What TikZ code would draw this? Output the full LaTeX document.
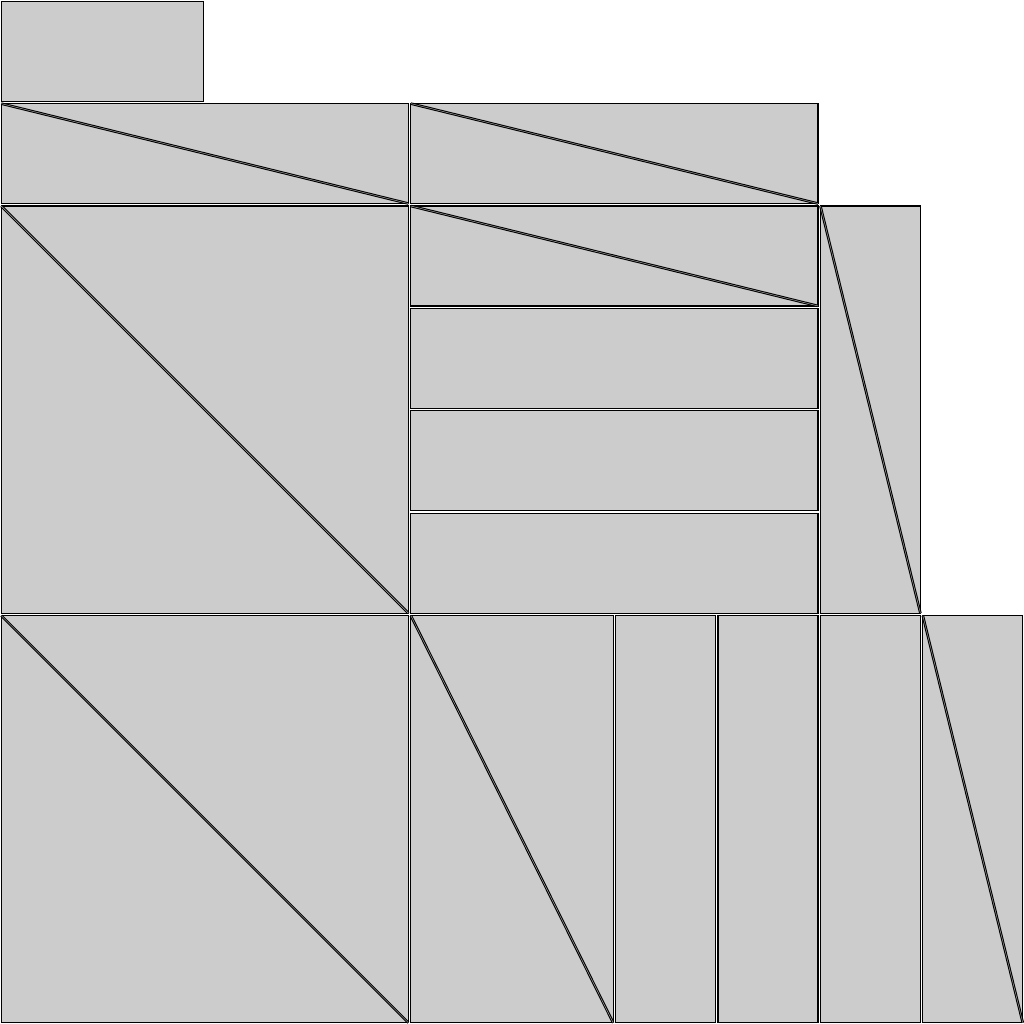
\documentclass[tikz,border=0pt]{standalone}
\definecolor{cellgray}{gray}{0.8}
\tikzset{
  cellbox/.style={fill=cellgray, draw=black, line width=0.35pt},
  diagline/.style={draw=black, line width=0.3pt, double=gray!60, double distance=0.12pt},
}
\newcommand\gap{0.012}
\newcommand\mycell[4]{%
  \path[cellbox] (#1+\gap,#2+\gap) rectangle (#3-\gap,#4-\gap);}
\newcommand\mydcell[4]{%
  \path[cellbox] (#1+\gap,#2+\gap) rectangle (#3-\gap,#4-\gap);
  \path[diagline] (#1+\gap,#2+\gap) -- (#3-\gap,#4-\gap);}
\begin{document}
\begin{tikzpicture}[x=1cm,y=-1cm]
\useasboundingbox (0,0) rectangle (10,10);
% top row
\mycell{0}{0}{2}{1}
% second row
\mydcell{0}{1}{4}{2}
\mydcell{4}{1}{8}{2}
% middle block
\mydcell{0}{2}{4}{6}
\mydcell{4}{2}{8}{3}
\mycell{4}{3}{8}{4}
\mycell{4}{4}{8}{5}
\mycell{4}{5}{8}{6}
\mydcell{8}{2}{9}{6}
% bottom block
\mydcell{0}{6}{4}{10}
\mydcell{4}{6}{6}{10}
\mycell{6}{6}{7}{10}
\mycell{7}{6}{8}{10}
\mycell{8}{6}{9}{10}
\mydcell{9}{6}{10}{10}
\end{tikzpicture}
\end{document}
